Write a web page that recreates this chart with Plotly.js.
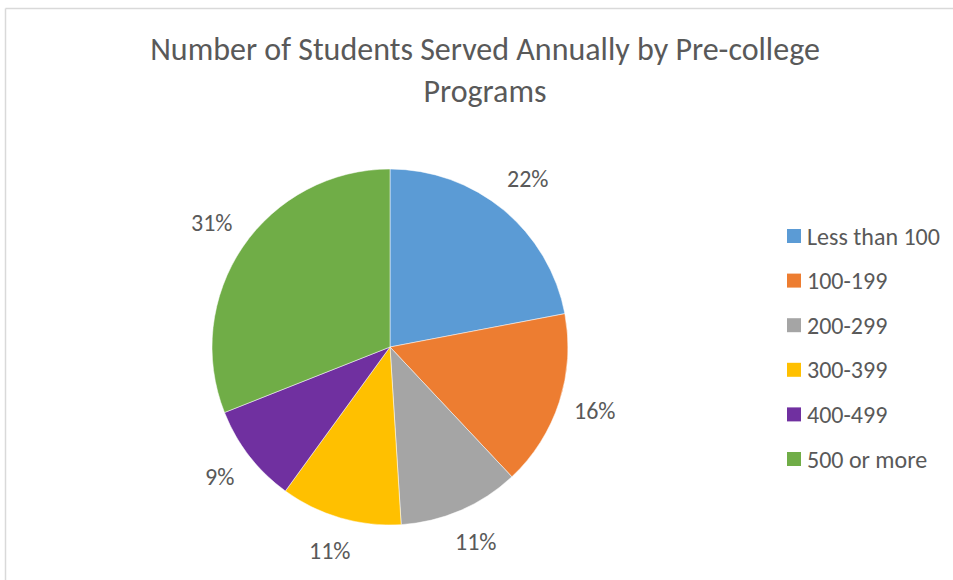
<!DOCTYPE html>
<html>
<head>
<meta charset="utf-8">
<script src="https://cdn.plot.ly/plotly-3.0.1.min.js"></script>
<style>html,body{margin:0;padding:0;background:#fff;}#chart{width:953px;height:580px;}</style>
</head>
<body>
<div id="chart"></div>
<script>
const categories = ["Less than 100", "100-199", "200-299", "300-399", "400-499", "500 or more"];
const shares = [22, 16, 11, 11, 9, 31];
const sliceColors = ["#5B9BD5", "#ED7D31", "#A5A5A5", "#FFC000", "#7030A0", "#70AD47"];
const chartTitle = "Number of Students Served Annually by Pre-college<br>Programs";

const W = 953, H = 580;
const cx = 390, cy = 347, R = 178;
const domain = {x: [(cx - R) / W, (cx + R) / W], y: [(H - cy - R) / H, (H - cy + R) / H]};
const textColor = "#595959";
const fontFam = "Carlito, Calibri, 'Open Sans', sans-serif";

const annotations = [];
const shapes = [];
const total = shares.reduce((a, b) => a + b, 0);
let cum = 0;
shares.forEach((v) => {
  const mid = (cum + v / 2) / total * 2 * Math.PI;
  cum += v;
  const r = R * 1.21;
  const px = cx + r * Math.sin(mid);
  const py = cy - r * Math.cos(mid) - 3;
  annotations.push({
    x: px / W, y: (H - py) / H, xref: "paper", yref: "paper",
    text: Math.round(v / total * 100) + "%", showarrow: false,
    xanchor: "center", yanchor: "middle",
    font: {family: fontFam, size: 24, color: textColor}
  });
});
const legX = 787, legY0 = 236, legStep = 44.6, sq = 14;
categories.forEach((c, i) => {
  const y = legY0 + i * legStep;
  shapes.push({type: "rect", xref: "paper", yref: "paper",
    x0: legX / W, x1: (legX + sq) / W, y0: (H - y - sq / 2) / H, y1: (H - y + sq / 2) / H,
    fillcolor: sliceColors[i], line: {width: 0}});
  annotations.push({x: (legX + sq + 4) / W, y: (H - y) / H, xref: "paper", yref: "paper",
    text: c, showarrow: false, xanchor: "left", yanchor: "middle",
    font: {family: fontFam, size: 24, color: textColor}});
});
shapes.push({type: "line", xref: "paper", yref: "paper", x0: 5.5 / W, x1: 1, y0: (H - 8.5) / H, y1: (H - 8.5) / H, line: {color: "#D9D9D9", width: 1.5}});
shapes.push({type: "line", xref: "paper", yref: "paper", x0: 5.5 / W, x1: 5.5 / W, y0: 0, y1: (H - 8.5) / H, line: {color: "#D9D9D9", width: 1.5}});

const trace = {
  type: "pie",
  labels: categories,
  values: shares,
  sort: false,
  direction: "clockwise",
  rotation: 0,
  textinfo: "none",
  hoverinfo: "label+percent",
  marker: {colors: sliceColors, line: {color: "#FFFFFF", width: 0.5}},
  domain: domain,
  showlegend: false
};

const layout = {
  width: W, height: H,
  margin: {l: 0, r: 0, t: 0, b: 0},
  paper_bgcolor: "#FFFFFF",
  title: {text: chartTitle, x: 485 / W, xanchor: "center", y: 1 - 60 / H, yanchor: "top",
    font: {family: fontFam, size: 32, color: textColor, weight: 300}},
  annotations: annotations,
  shapes: shapes,
  showlegend: false
};

Plotly.newPlot("chart", [trace], layout, {displayModeBar: false, staticPlot: true});
</script>
</body>
</html>
